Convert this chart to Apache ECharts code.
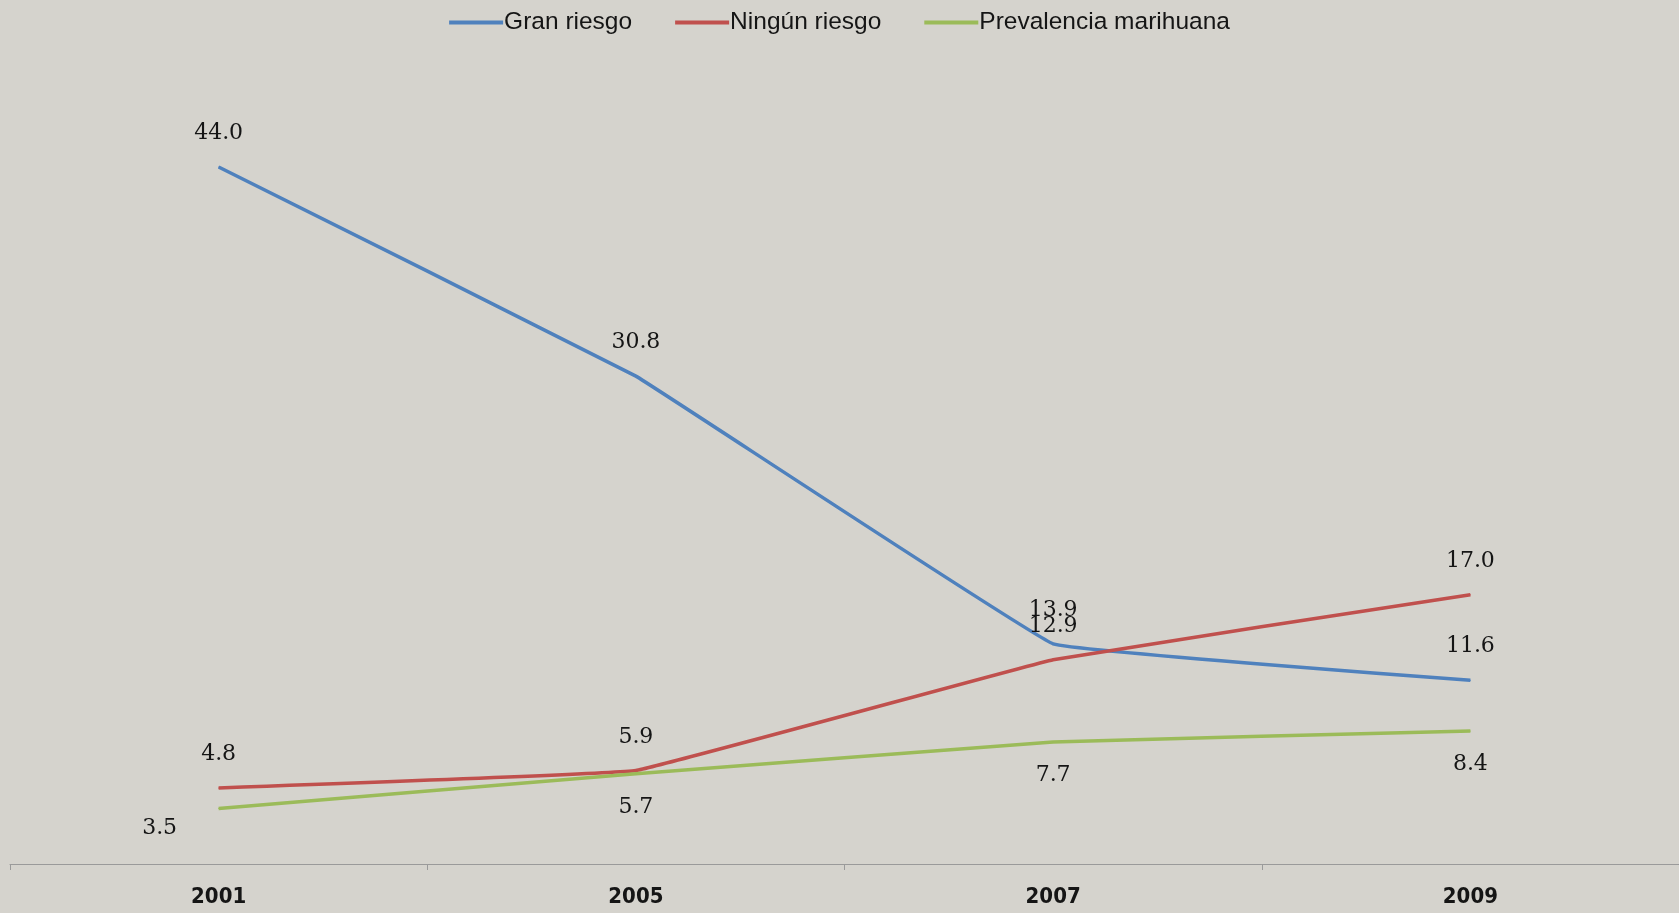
<!DOCTYPE html>
<html>
<head>
<meta charset="utf-8">
<script src="https://cdn.jsdelivr.net/npm/echarts@6/dist/echarts.min.js"></script>
<style>
html,body{margin:0;padding:0;background:#d5d3cd;}
#chart{width:1679px;height:913px;}
</style>
</head>
<body>
<div id="chart"></div>
<script>
//数据
var years = ['2001', '2005', '2007', '2009'];
var granRiesgo = [44.0, 30.8, 13.9, 11.6];
var ningunRiesgo = [4.8, 5.9, 12.9, 17.0];
var prevalencia = [3.5, 5.7, 7.7, 8.4];

var labelFont = 'DejaVu Serif';

function labelStyle(pos){
	return {
		show: true,
		position: pos,
		distance: 22,
		fontFamily: labelFont,
		fontSize: 22,
		color: '#151515',
		formatter: function(p){ return p.value.toFixed(1); }
	};
}

//绿色第一个标签偏左
var prevData = prevalencia.map(function(v, i){
	if (i == 0) {
		return {value: v, label: {offset: [-59, -14]}};
	}
	return v;
});

var myChart = echarts.init(document.getElementById('chart'));
option = {
	backgroundColor: '#d5d3cd',
	animation: false,
	legend: {
		top: 5,
		left: 'center',
		itemWidth: 54,
		itemHeight: 4,
		itemGap: 43,
		icon: 'rect',
		textStyle: {
			fontFamily: 'Liberation Sans',
			fontSize: 24.5,
			color: '#151515',
			padding: [0, 0, 0, -4]
		},
		data: ['Gran riesgo', 'Ningún riesgo', 'Prevalencia marihuana']
	},
	grid: {
		left: 10,
		right: 0,
		top: 72,
		bottom: 49
	},
	xAxis: {
		type: 'category',
		boundaryGap: true,
		data: years,
		axisLine: {lineStyle: {color: '#9a9a9a', width: 1}},
		axisTick: {show: true, length: 6, lineStyle: {color: '#9a9a9a'}},
		axisLabel: {
			margin: 22,
			fontFamily: 'DejaVu Sans Condensed',
			fontWeight: 'bold',
			fontSize: 22,
			color: '#151515'
		}
	},
	yAxis: {
		type: 'value',
		min: 0,
		max: 50,
		show: false,
		splitLine: {show: false}
	},
	series: [{
		name: 'Gran riesgo',
		type: 'line',
		data: granRiesgo,
		smooth: 0.05,
		symbol: 'circle',
		symbolSize: 1,
		color: '#4f81bd',
		lineStyle: {width: 3.5, color: '#4f81bd'},
		label: labelStyle('top')
	}, {
		name: 'Ningún riesgo',
		type: 'line',
		data: ningunRiesgo,
		smooth: 0.05,
		symbol: 'circle',
		symbolSize: 1,
		color: '#c0504d',
		lineStyle: {width: 3.5, color: '#c0504d'},
		label: labelStyle('top')
	}, {
		name: 'Prevalencia marihuana',
		type: 'line',
		data: prevData,
		smooth: 0.05,
		symbol: 'circle',
		symbolSize: 1,
		color: '#9bbb59',
		lineStyle: {width: 3.5, color: '#9bbb59'},
		label: labelStyle('bottom')
	}]
};
myChart.setOption(option);
</script>
</body>
</html>
